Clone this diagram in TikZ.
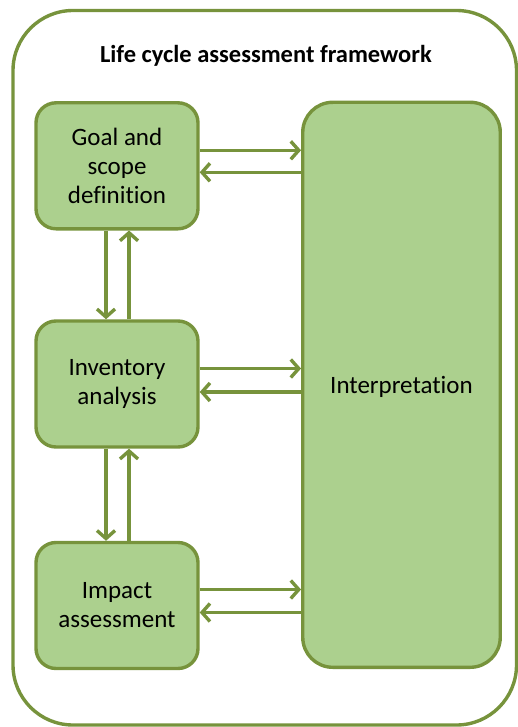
\documentclass[tikz,border=0pt]{standalone}
\usepackage{fontspec}
\setmainfont{Carlito}[Ligatures={NoCommon}]
\usepackage{tikz}
\usetikzlibrary{arrows.meta}

\definecolor{lcaline}{RGB}{119,147,60}
\definecolor{lcafill}{RGB}{172,208,142}

\tikzset{
  stage/.style={rectangle,rounded corners=20pt,draw=lcaline,fill=lcafill,line width=3.4pt,
    minimum width=162pt,minimum height=126pt,align=center,inner sep=0pt,
    font=\fontsize{25}{29}\selectfont},
  flow/.style={draw=lcaline,line width=3.4pt,-{Straight Barb[length=8pt,width=18pt]}}
}

\begin{document}
\begin{tikzpicture}[x=1pt,y=-1pt]
 \useasboundingbox (0,0) rectangle (518,727);

 % outer frame and heading
 \node at (264.75,367.75) [rectangle,rounded corners=60pt,draw=lcaline,line width=3.4pt,
   minimum width=503.5pt,minimum height=714.5pt] (frame) {};
 \node at (266,62.7) [anchor=base,font=\fontsize{24.5}{28}\selectfont\bfseries] (title) {Life cycle assessment framework};

 % the three stages on the left
 \node at (117,165.8) [stage] (goal) {Goal and\\scope\\definition};
 \node at (117,384) [stage] (inv) {Inventory\\analysis};
 \node at (117,605.5) [stage] (impact) {Impact\\assessment};

 % interpretation column
 \node at (401.5,384.8) [stage,rounded corners=30pt,minimum width=197.5pt,minimum height=565pt,text depth=0pt] (interp) {Interpretation};

 % to and from the interpretation
 \draw[flow] ([yshift=15.5pt]goal.east) -- ([yshift=15.5pt]goal.east -| interp.west);
 \draw[flow] ([yshift=-6.5pt]goal.east -| interp.west) -- ([yshift=-6.5pt]goal.east);
 \draw[flow] ([yshift=15.5pt]inv.east) -- ([yshift=15.5pt]inv.east -| interp.west);
 \draw[flow] ([yshift=-8pt]inv.east -| interp.west) -- ([yshift=-8pt]inv.east);
 \draw[flow] ([yshift=16pt]impact.east) -- ([yshift=16pt]impact.east -| interp.west);
 \draw[flow] ([yshift=-7pt]impact.east -| interp.west) -- ([yshift=-7pt]impact.east);

 % up and down between the stages
 \draw[flow] ([xshift=-11pt]goal.south) -- ([xshift=-11pt]inv.north);
 \draw[flow] ([xshift=12pt]inv.north) -- ([xshift=12pt]goal.south);
 \draw[flow] ([xshift=-11pt]inv.south) -- ([xshift=-11pt]impact.north);
 \draw[flow] ([xshift=12pt]impact.north) -- ([xshift=12pt]inv.south);
\end{tikzpicture}
\end{document}
